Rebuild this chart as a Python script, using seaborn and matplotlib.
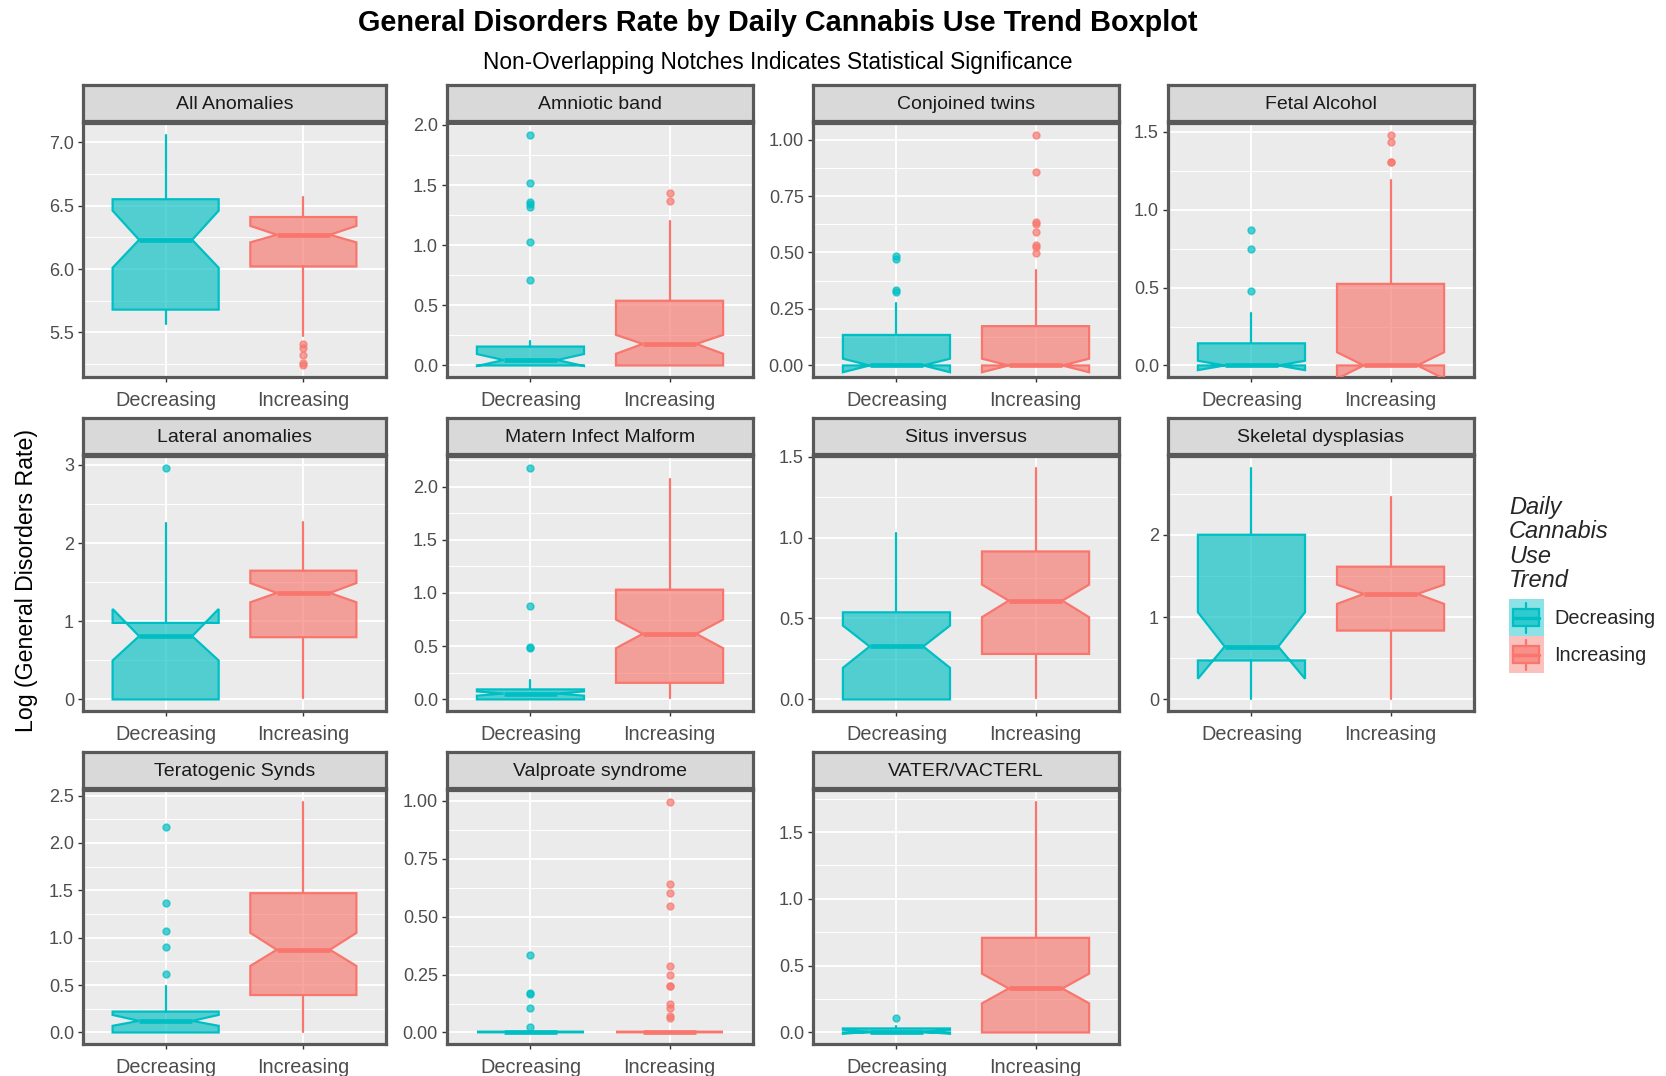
import matplotlib
matplotlib.use("Agg")
import matplotlib.pyplot as plt
import seaborn as sns
from matplotlib.patches import Patch, Rectangle
from matplotlib.lines import Line2D
from matplotlib.legend_handler import HandlerBase
from matplotlib.ticker import MultipleLocator

# ---- data (log rates) ----
panels = ["All Anomalies", "Amniotic band", "Conjoined twins", "Fetal Alcohol",
          "Lateral anomalies", "Matern Infect Malform", "Situs inversus",
          "Skeletal dysplasias", "Teratogenic Synds", "Valproate syndrome",
          "VATER/VACTERL"]
trends = ["Decreasing", "Increasing"]

# each entry: [Decreasing, Increasing]
whisker_lo = [[5.57, 5.47], [0.0, 0.0], [0.0, 0.0], [0.0, 0.0], [0.0, 0.02], [0.0, 0.016],
              [0.0, 0.01], [0.0, 0.0], [0.0, 0.01], [0.0, 0.0], [0.0, 0.0]]
lower_q = [[5.68, 6.02], [0.0, 0.0], [0.0, 0.0], [0.0, 0.0], [0.0, 0.796], [0.0, 0.156],
           [0.0, 0.281], [0.473, 0.836], [0.0, 0.395], [0.0, 0.0], [0.0, 0.0]]
notch_lo = [[6.01, 6.21], [-0.005, 0.097], [-0.03, -0.03], [-0.03, -0.085], [0.498, 1.243],
            [0.035, 0.481], [0.195, 0.508], [0.251, 1.16], [0.07, 0.702], [0.0, 0.0], [-0.01, 0.218]]
median = [[6.23, 6.27], [0.045, 0.179], [0.0, 0.0], [0.0, 0.0], [0.809, 1.362], [0.055, 0.616],
          [0.327, 0.61], [0.642, 1.281], [0.122, 0.873], [0.0, 0.0], [0.005, 0.329]]
notch_hi = [[6.46, 6.34], [0.095, 0.254], [0.03, 0.03], [0.03, 0.085], [1.157, 1.489],
            [0.075, 0.75], [0.456, 0.709], [1.059, 1.394], [0.185, 1.051], [0.0, 0.0], [0.02, 0.44]]
upper_q = [[6.55, 6.41], [0.157, 0.538], [0.135, 0.174], [0.142, 0.524], [0.979, 1.647],
           [0.094, 1.031], [0.538, 0.914], [2.0, 1.612], [0.22, 1.47], [0.0, 0.0], [0.03, 0.708]]
whisker_hi = [[7.06, 6.57], [0.204, 1.197], [0.277, 0.421], [0.34, 1.188], [2.251, 2.272],
              [0.178, 2.075], [1.025, 1.432], [2.816, 2.453], [0.492, 2.437], [0.0, 0.0], [0.045, 1.728]]
outliers = [
    [[], [5.41, 5.38, 5.32, 5.26, 5.24]],
    [[1.92, 1.52, 1.36, 1.34, 1.32, 1.03, 0.71], [1.43, 1.37]],
    [[0.484, 0.469, 0.333, 0.324], [1.022, 0.856, 0.633, 0.626, 0.592, 0.531, 0.523, 0.497]],
    [[0.868, 0.749, 0.477], [1.483, 1.436, 1.309, 1.305]],
    [[2.966], []],
    [[2.178, 0.881, 0.497, 0.484], []],
    [[], []],
    [[], []],
    [[2.168, 1.362, 1.068, 0.901, 0.622], []],
    [[0.336, 0.169, 0.166, 0.107, 0.023],
     [0.997, 0.64, 0.604, 0.544, 0.287, 0.247, 0.201, 0.199, 0.121, 0.107, 0.069, 0.061]],
    [[0.106], []],
]
ytick_labels = [
    ["5.5", "6.0", "6.5", "7.0"],
    ["0.0", "0.5", "1.0", "1.5", "2.0"],
    ["0.00", "0.25", "0.50", "0.75", "1.00"],
    ["0.0", "0.5", "1.0", "1.5"],
    ["0", "1", "2", "3"],
    ["0.0", "0.5", "1.0", "1.5", "2.0"],
    ["0.0", "0.5", "1.0", "1.5"],
    ["0", "1", "2"],
    ["0.0", "0.5", "1.0", "1.5", "2.0", "2.5"],
    ["0.00", "0.25", "0.50", "0.75", "1.00"],
    ["0.0", "0.5", "1.0", "1.5"],
]

# ---- style ----
sns.set_theme(style="darkgrid", rc={
    "axes.facecolor": "#EBEBEB",
    "grid.color": "white",
    "xtick.color": "#333333",
    "ytick.color": "#333333",
    "xtick.labelcolor": "#4D4D4D",
    "ytick.labelcolor": "#4D4D4D",
})
plt.rcParams["font.family"] = ["Liberation Sans", "DejaVu Sans"]
palette = sns.color_palette(["#00BFC4", "#F8766D"])
border = "#595959"

W, H = 1666, 1076
fig = plt.figure(figsize=(W / 100, H / 100), dpi=100)

col_left = [83, 447, 813, 1168]
col_width = [303, 306, 306, 306]
row_top = [123, 456, 790]
row_bottom = [377, 711, 1044]


def frac(x0, y0, x1, y1):
    return [x0 / W, 1 - y1 / H, (x1 - x0) / W, (y1 - y0) / H]


for i, name in enumerate(panels):
    r, c = divmod(i, 4)
    x0, x1 = col_left[c], col_left[c] + col_width[c]
    ax = fig.add_axes(frac(x0, row_top[r], x1, row_bottom[r]))

    stats = []
    for j, t in enumerate(trends):
        stats.append(dict(label=t, whislo=whisker_lo[i][j], q1=lower_q[i][j],
                          med=median[i][j], q3=upper_q[i][j], whishi=whisker_hi[i][j],
                          cilo=notch_lo[i][j], cihi=notch_hi[i][j], fliers=outliers[i][j]))
    parts = ax.bxp(stats, positions=[1, 2], widths=0.77, shownotches=True,
                   showcaps=False, patch_artist=True)
    for j, col in enumerate(palette):
        parts["boxes"][j].set(facecolor=(*col, 0.65), edgecolor=col, linewidth=1.6, zorder=3)
        parts["medians"][j].set(color=col, linewidth=3.4, solid_capstyle="butt", zorder=4)
        for w in parts["whiskers"][2 * j:2 * j + 2]:
            w.set(color=col, linewidth=1.6, zorder=2)
        parts["fliers"][j].set(marker="o", markerfacecolor=col, markeredgecolor=col,
                               markersize=5, alpha=0.7, zorder=3)

    vals = [v for j in range(2) for v in [whisker_lo[i][j], lower_q[i][j], whisker_hi[i][j]] + outliers[i][j]]
    lo, hi = min(vals), max(vals)
    pad = 0.05 * (hi - lo)
    ax.set_ylim(lo - pad, hi + pad)
    ax.set_xlim(0.4, 2.6)

    ticks = [float(s) for s in ytick_labels[i]]
    ax.set_yticks(ticks)
    ax.set_yticklabels(ytick_labels[i])
    ax.yaxis.set_minor_locator(MultipleLocator((ticks[1] - ticks[0]) / 2))
    ax.set_xticks([1, 2])
    ax.set_xticklabels(trends)
    ax.grid(True, which="major", color="white", linewidth=1.3)
    ax.grid(True, which="minor", axis="y", color="white", linewidth=0.7)
    ax.set_axisbelow(True)
    ax.tick_params(axis="both", which="major", length=3.5, width=1.0, pad=3,
                   bottom=True, left=True)
    ax.tick_params(axis="x", labelsize=14.3, pad=6.5)
    ax.tick_params(axis="y", labelsize=13)
    ax.tick_params(which="minor", length=0)
    for s in ax.spines.values():
        s.set_visible(True)
        s.set_color(border)
        s.set_linewidth(2.3)
    ax.set_xlabel("")
    ax.set_ylabel("")

    # facet strip
    st = fig.add_axes(frac(x0, row_top[r] - 38, x1, row_top[r] - 2))
    st.set_facecolor("#D9D9D9")
    st.set_xticks([])
    st.set_yticks([])
    st.grid(False)
    for s in st.spines.values():
        s.set_visible(True)
        s.set_color(border)
        s.set_linewidth(2.3)
    st.text(0.5, 0.46, name, ha="center", va="center", fontsize=14, color="#1A1A1A",
            transform=st.transAxes)


# ---- legend ----
class BoxKey(HandlerBase):
    def create_artists(self, legend, orig_handle, xdescent, ydescent, width, height,
                       fontsize, trans):
        col = orig_handle.get_edgecolor()[:3]
        x0, y0 = -xdescent, -ydescent
        bg = Rectangle((x0, y0), width, height, facecolor=(*col, 0.45),
                       edgecolor="none", transform=trans)
        box = Rectangle((x0 + 0.12 * width, y0 + 0.27 * height), 0.76 * width, 0.46 * height,
                        facecolor=(*col, 0.65), edgecolor=col, linewidth=1.6, transform=trans)
        cx = x0 + width / 2
        med = Line2D([x0 + 0.12 * width, x0 + 0.88 * width], [y0 + height / 2] * 2,
                     color=col, linewidth=2.5, transform=trans)
        w1 = Line2D([cx, cx], [y0 + 0.1 * height, y0 + 0.27 * height], color=col,
                    linewidth=1.6, transform=trans)
        w2 = Line2D([cx, cx], [y0 + 0.73 * height, y0 + 0.9 * height], color=col,
                    linewidth=1.6, transform=trans)
        return [bg, box, med, w1, w2]


handles = [Patch(facecolor=col, edgecolor=col) for col in palette]
leg = fig.legend(handles, trends, handler_map={Patch: BoxKey()},
                 loc="upper left", bbox_to_anchor=(1495 / W, 1 - 482 / H),
                 title="Daily\nCannabis\nUse\nTrend", frameon=False, fontsize=14.3,
                 handlelength=1.75, handleheight=2.5, handletextpad=0.55,
                 labelspacing=0.0, borderpad=0.2, alignment="left")
leg.get_title().set_fontstyle("italic")
leg.get_title().set_fontsize(17)
leg.get_title().set_linespacing(1.08)
leg._legend_box.sep = 5

# ---- titles ----
fig.text(778 / W, 1 - 23 / H, "General Disorders Rate by Daily Cannabis Use Trend Boxplot",
         ha="center", va="center", fontsize=20.8, fontweight="bold", color="black")
fig.text(778 / W, 1 - 62 / H, "Non-Overlapping Notches Indicates Statistical Significance",
         ha="center", va="center", fontsize=16.3, color="black")
fig.text(27 / W, 1 - 580 / H, "Log (General Disorders Rate)", rotation=90,
         ha="center", va="center", fontsize=16.7, color="black")

fig.savefig("out.png", dpi=100, facecolor="white")
